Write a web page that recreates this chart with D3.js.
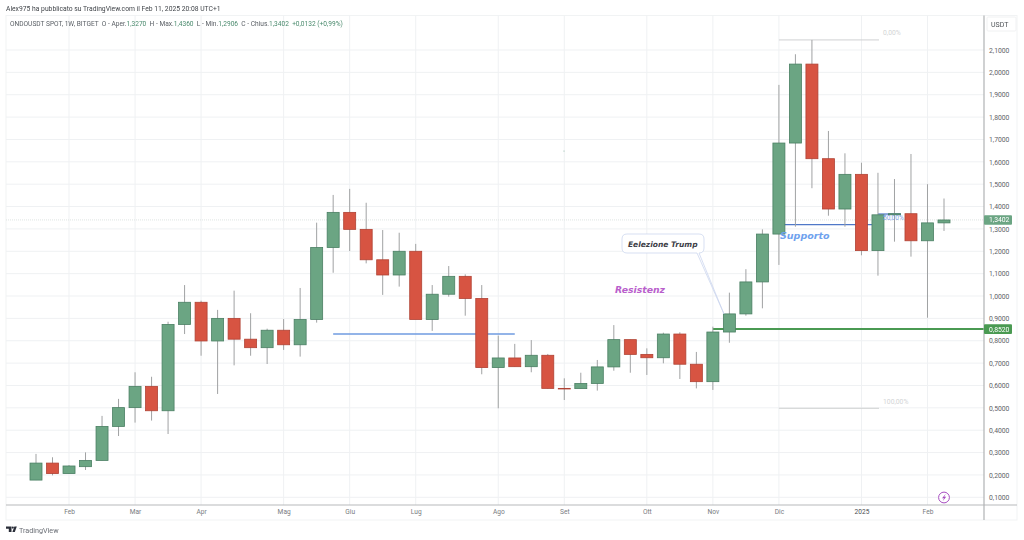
<!DOCTYPE html>
<html>
<head>
<meta charset="utf-8">
<script src="https://cdn.jsdelivr.net/npm/d3@7"></script>
<style>
  html, body { margin: 0; padding: 0; background: #fff; }
  svg { display: block; font-family: Roboto, sans-serif; filter: blur(0.35px); }
</style>
</head>
<body>
<div id="chart"></div>
<script>
// weekly candles
const opens = [0.177,0.253,0.206,0.237,0.265,0.417,0.501,0.596,0.487,0.873,0.972,0.799,0.900,0.807,0.769,0.847,0.782,0.895,1.217,1.374,1.298,1.162,1.094,1.200,0.895,1.008,1.088,0.989,0.680,0.723,0.684,0.735,0.587,0.586,0.609,0.683,0.805,0.739,0.724,0.830,0.695,0.617,0.839,0.920,1.063,1.277,1.684,2.037,1.614,1.389,1.544,1.203,1.363,1.368,1.247,1.327];
const highs = [0.294,0.279,0.244,0.301,0.464,0.540,0.659,0.639,0.885,1.049,0.979,0.938,1.024,0.923,0.854,0.897,1.036,1.328,1.452,1.479,1.417,1.295,1.283,1.233,1.049,1.134,1.097,1.049,0.823,0.786,0.803,0.741,0.632,0.657,0.714,0.870,0.805,0.766,0.836,0.838,0.750,0.863,1.015,1.120,1.298,1.944,2.081,2.145,1.738,1.638,1.596,1.551,1.523,1.635,1.500,1.436];
const lows = [0.177,0.198,0.206,0.222,0.265,0.374,0.434,0.443,0.383,0.830,0.733,0.562,0.690,0.733,0.696,0.759,0.729,0.881,1.104,1.201,1.146,1.005,1.042,0.897,0.844,0.997,0.912,0.650,0.498,0.684,0.659,0.586,0.535,0.586,0.577,0.666,0.657,0.647,0.699,0.629,0.587,0.580,0.791,0.912,0.945,1.139,1.310,1.482,1.359,1.310,1.182,1.091,1.243,1.176,0.903,1.291];
const closes = [0.253,0.206,0.240,0.265,0.417,0.501,0.596,0.487,0.873,0.972,0.799,0.900,0.807,0.769,0.847,0.782,0.895,1.217,1.374,1.298,1.162,1.094,1.200,0.895,1.008,1.088,0.989,0.680,0.723,0.684,0.735,0.587,0.586,0.609,0.683,0.805,0.739,0.724,0.830,0.695,0.617,0.839,0.920,1.063,1.277,1.684,2.037,1.614,1.389,1.544,1.203,1.363,1.368,1.247,1.327,1.340];

const priceTicks = [0.1,0.2,0.3,0.4,0.5,0.6,0.7,0.8,0.9,1.0,1.1,1.2,1.3,1.4,1.5,1.6,1.7,1.8,1.9,2.0,2.1];
const monthBars = [2,6,10,15,19,23,28,32,37,41,45,50,54];
const monthLabels = ["Feb","Mar","Apr","Mag","Giu","Lug","Ago","Set","Ott","Nov","Dic","2025","Feb"];

const lastPrice = 1.3402;
const resistancePrice = 0.852;
const fibTop = 2.145;
const fibMid = 1.3665;
const fibBottom = 0.498;
const oldSupportPrice = 0.8302;
const newSupportPrice = 1.3195;

const WIDTH = 1024, HEIGHT = 540;
const PANE = { left: 6, right: 984, top: 15.5, bottom: 505 };
const UP = "#6ba583", DOWN = "#d75442";
const fmt = (v, n = 4) => v.toFixed(n).replace(".", ",");

const x = d3.scalePoint().domain(d3.range(opens.length)).range([36, 944]);
const y = d3.scaleLinear().domain([0.1, 2.1]).range([497.3, 50]);

const svg = d3.select("#chart").append("svg")
  .attr("width", WIDTH).attr("height", HEIGHT);

// frame
svg.append("rect")
  .attr("x", PANE.left).attr("y", PANE.top)
  .attr("width", 1017 - PANE.left).attr("height", 520 - PANE.top)
  .attr("fill", "#fff").attr("stroke", "#f1f3f4");

// grid
const grid = svg.append("g").attr("stroke", "#eff1f3");
grid.selectAll("line.h").data(priceTicks).join("line").attr("class", "h")
  .attr("x1", PANE.left).attr("x2", PANE.right)
  .attr("y1", d => y(d)).attr("y2", d => y(d));
grid.selectAll("line.v").data(monthBars).join("line").attr("class", "v")
  .attr("x1", d => x(d)).attr("x2", d => x(d))
  .attr("y1", PANE.top).attr("y2", PANE.bottom);

// last price line
svg.append("line")
  .attr("x1", PANE.left).attr("x2", PANE.right)
  .attr("y1", y(lastPrice)).attr("y2", y(lastPrice))
  .attr("stroke", "#dfe4e2").attr("stroke-dasharray", "1 1");

// fib levels
const fib = svg.append("g").attr("font-size", 6.8);
[fibTop, fibBottom].forEach((p, i) => {
  fib.append("line")
    .attr("x1", x(45)).attr("x2", 879)
    .attr("y1", y(p)).attr("y2", y(p))
    .attr("stroke", "#cfd1d2");
  fib.append("text")
    .attr("x", 883).attr("y", y(p) - 4.5)
    .attr("fill", "#d3d5d6")
    .text(i === 0 ? "0,00%" : "100,00%");
});

// hand drawn blue lines, behind the candles
svg.append("line")
  .attr("x1", x(18)).attr("x2", x(29))
  .attr("y1", y(oldSupportPrice)).attr("y2", y(oldSupportPrice))
  .attr("stroke", "#6f9be0").attr("stroke-width", 1.3);
svg.append("line")
  .attr("x1", x(45)).attr("x2", x(51))
  .attr("y1", y(newSupportPrice)).attr("y2", y(newSupportPrice))
  .attr("stroke", "#4f78c8").attr("stroke-width", 1.3);
svg.append("line")
  .attr("x1", x(51)).attr("x2", 901)
  .attr("y1", y(fibMid)).attr("y2", y(fibMid))
  .attr("stroke", "#4f78c8").attr("stroke-width", 1.3);

// resistance line
svg.append("line")
  .attr("x1", x(41)).attr("x2", PANE.right)
  .attr("y1", y(resistancePrice)).attr("y2", y(resistancePrice))
  .attr("stroke", "#4a9a52").attr("stroke-width", 2);

// candles
const candles = svg.append("g").selectAll("g")
  .data(opens.map((o, i) => ({ i, o, h: highs[i], l: lows[i], c: closes[i] })))
  .join("g");
candles.append("line")
  .attr("x1", d => x(d.i)).attr("x2", d => x(d.i))
  .attr("y1", d => y(d.h)).attr("y2", d => y(d.l))
  .attr("stroke", "#a0a2a3");
candles.append("rect")
  .attr("x", d => x(d.i) - 6)
  .attr("width", 12)
  .attr("y", d => y(Math.max(d.o, d.c)))
  .attr("height", d => Math.max(0.6, Math.abs(y(d.o) - y(d.c))))
  .attr("fill", d => (d.c >= d.o ? UP : DOWN))
  .attr("stroke", d => (d.c >= d.o ? "#4a7f63" : "#b04335"))
  .attr("stroke-width", 0.8);

// 50% fib label sits over the candles
svg.append("text")
  .attr("x", 883).attr("y", y(fibMid) + 5.5)
  .attr("font-size", 6.5).attr("fill", "#7fa2e4")
  .text("50,00%");

// text annotations
svg.append("text")
  .attr("x", 780).attr("y", 238.5)
  .attr("font-family", "DejaVu Sans").attr("font-style", "italic").attr("font-weight", "bold")
  .attr("font-size", 9.5).attr("fill", "#6fa2ee")
  .text("Supporto");
svg.append("text")
  .attr("x", 615).attr("y", 293)
  .attr("font-family", "DejaVu Sans").attr("font-style", "italic").attr("font-weight", "bold")
  .attr("font-size", 9.3).attr("fill", "#b960cc")
  .text("Resistenz");

// callout
svg.append("path")
  .attr("d", "M627,234 H699 Q704,234 704,239 V248 Q704,253 699,253 L699,253 L724,314 L697,253 H627 Q622,253 622,248 V239 Q622,234 627,234 Z")
  .attr("fill", "#fff").attr("stroke", "#c6d1ec").attr("stroke-width", 0.7);
svg.append("text")
  .attr("x", 628).attr("y", 246.5)
  .attr("font-family", "DejaVu Sans").attr("font-style", "italic").attr("font-weight", "bold")
  .attr("font-size", 7.5).attr("fill", "#3d4047")
  .text("Eelezione Trump");

// stray mark
svg.append("circle").attr("cx", 564).attr("cy", 151).attr("r", 0.6).attr("fill", "#8fb8a8");

// price axis
const yAxis = svg.append("g")
  .attr("transform", `translate(${PANE.right},0)`)
  .call(d3.axisRight(y).tickValues(priceTicks).tickFormat(d => fmt(d)).tickSize(0).tickPadding(5));
yAxis.select(".domain").remove();
yAxis.selectAll("text").attr("font-size", 6.8).attr("font-family", "Roboto").attr("fill", "#5f6368");

// time axis
const xAxis = svg.append("g")
  .attr("transform", `translate(0,${PANE.bottom})`)
  .call(d3.axisBottom(x).tickValues(monthBars)
    .tickFormat(d => monthLabels[monthBars.indexOf(d)]).tickSize(0).tickPadding(4));
xAxis.select(".domain").remove();
xAxis.selectAll("text").attr("font-size", 6.6).attr("font-family", "Roboto")
  .attr("fill", d => (d === 50 ? "#4a4d52" : "#787b80"));

// axis borders
svg.append("line").attr("x1", PANE.left).attr("x2", 1017)
  .attr("y1", PANE.bottom).attr("y2", PANE.bottom)
  .attr("stroke", "#b8babc").attr("stroke-width", 1.2);
svg.append("line").attr("x1", PANE.right).attr("x2", PANE.right)
  .attr("y1", PANE.top).attr("y2", 520)
  .attr("stroke", "#b0b2b4").attr("stroke-width", 1.2);

// USDT box
svg.append("rect").attr("x", 987).attr("y", 17).attr("width", 29).attr("height", 14)
  .attr("fill", "#fff").attr("stroke", "#f0f1f2").attr("rx", 1);
svg.append("text").attr("x", 991).attr("y", 27)
  .attr("font-size", 7).attr("fill", "#4f5357").text("USDT");

// price labels
[[lastPrice, "#6ba583"], [resistancePrice, "#4a9a52"]].forEach(([p, col]) => {
  svg.append("rect")
    .attr("x", 984).attr("y", y(p) - 4.8).attr("width", 28).attr("height", 9.6)
    .attr("rx", 1).attr("fill", col);
  svg.append("text")
    .attr("x", 989).attr("y", y(p) + 2.5)
    .attr("font-size", 6.8).attr("fill", "#fff")
    .text(fmt(p));
});

// header
svg.append("text").attr("x", 6).attr("y", 10.5)
  .attr("font-size", 6.75).attr("fill", "#41454a")
  .text("Alex975 ha pubblicato su TradingView.com il Feb 11, 2025 20:08 UTC+1");

const legend = svg.append("text").attr("x", 10).attr("y", 25.5)
  .attr("font-size", 6.6).attr("fill", "#5b6066").attr("xml:space", "preserve")
  .style("white-space", "pre");
legend.append("tspan").text("ONDOUSDT SPOT, 1W, BITGET  O - Aper.");
legend.append("tspan").attr("fill", "#4a8a6d").text(fmt(opens[55]));
legend.append("tspan").text("  H - Max.");
legend.append("tspan").attr("fill", "#4a8a6d").text(fmt(highs[55]));
legend.append("tspan").text("  L - Min.");
legend.append("tspan").attr("fill", "#4a8a6d").text("1,2906");
legend.append("tspan").text("  C - Chius.");
legend.append("tspan").attr("fill", "#4a8a6d").text(fmt(lastPrice));
legend.append("tspan").attr("fill", "#4a8a6d").text("  +0,0132 (+0,99%)");

// lightning badge
svg.append("circle").attr("cx", 944).attr("cy", 497.5).attr("r", 5.4)
  .attr("fill", "#fff").attr("stroke", "#a64cc0").attr("stroke-width", 1);
svg.append("path").attr("d", "M945.8,493.8 L942,498.2 L944,498.2 L942.6,501.2 L946.2,496.8 L944.2,496.8 Z")
  .attr("fill", "#a64cc0");

// logo
const logo = svg.append("g").attr("fill", "#2a2e39");
logo.append("path").attr("d", "M6,526.5 H11.5 V532 H8.8 V528.8 H6 Z");
logo.append("circle").attr("cx", 12.8).attr("cy", 527.6).attr("r", 1.1);
logo.append("path").attr("d", "M12.4,532 L14.4,526.5 H16.8 L14.8,532 Z");
svg.append("text").attr("x", 19).attr("y", 533)
  .attr("font-size", 7.2).attr("fill", "#6a6e75").text("TradingView");
</script>
</body>
</html>
